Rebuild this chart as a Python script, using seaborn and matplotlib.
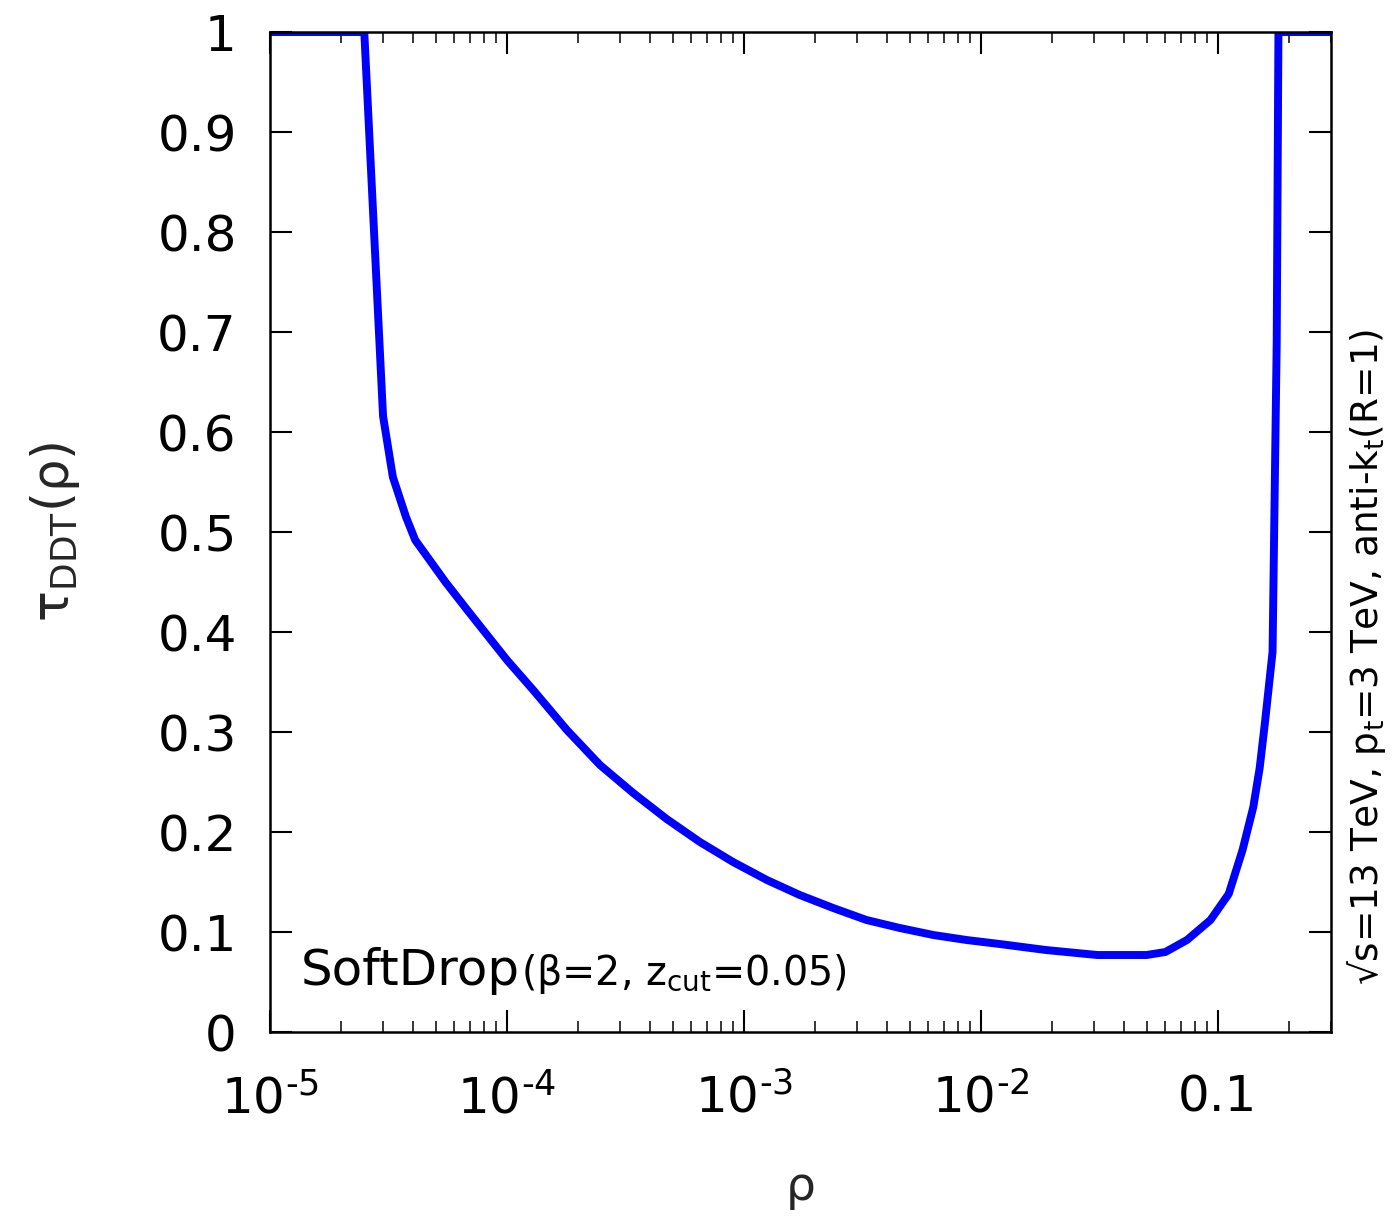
import matplotlib
matplotlib.use("Agg")
import matplotlib.pyplot as plt
import seaborn as sns
import numpy as np
import pandas as pd
from matplotlib.offsetbox import TextArea, HPacker, AnchoredOffsetbox
from matplotlib.ticker import LogLocator, NullFormatter, FixedLocator, NullLocator

# ---- data ----
rho = [1e-5, 2.5e-5, 3.0e-5, 3.3e-5, 3.75e-5, 4.1e-5, 5.5e-5, 6.8e-5, 1.0e-4,
       1.29e-4, 1.79e-4, 2.47e-4, 3.41e-4, 4.72e-4, 6.52e-4, 9.0e-4, 1.25e-3,
       1.72e-3, 2.38e-3, 3.29e-3, 4.55e-3, 6.3e-3, 8.7e-3, 1.2e-2, 1.88e-2,
       3.1e-2, 5e-2, 6e-2, 7.4e-2, 9.3e-2, 0.111, 0.127, 0.141, 0.15, 0.158,
       0.17, 0.177, 0.18, 0.3]
tau = [1.0, 1.0, 0.616, 0.555, 0.515, 0.492, 0.450, 0.422, 0.372,
       0.342, 0.302, 0.267, 0.239, 0.213, 0.190, 0.170, 0.152,
       0.137, 0.124, 0.112, 0.104, 0.097, 0.092, 0.088, 0.082,
       0.077, 0.077, 0.080, 0.092, 0.112, 0.138, 0.182, 0.225, 0.264, 0.310,
       0.380, 0.690, 1.0, 1.0]

x_ticks = [1e-5, 1e-4, 1e-3, 1e-2, 0.1]
x_tick_labels = ["10$^{\u20105}$", "10$^{\u20104}$", "10$^{\u20103}$", "10$^{\u20102}$", "0.1"]
y_ticks = [0, 0.1, 0.2, 0.3, 0.4, 0.5, 0.6, 0.7, 0.8, 0.9, 1.0]
y_tick_labels = ["0", "0.1", "0.2", "0.3", "0.4", "0.5", "0.6", "0.7", "0.8", "0.9", "1"]

df = pd.DataFrame({"rho": rho, "tau": tau})

sns.set_style("ticks")
plt.rcParams["font.family"] = ["DejaVu Sans"]
plt.rcParams["mathtext.fontset"] = "dejavusans"
plt.rcParams["mathtext.default"] = "regular"

fig = plt.figure(figsize=(13.93, 12.17), dpi=100)
ax = fig.add_axes([0.1938, 0.152, 0.9555 - 0.1938, 0.9737 - 0.152])

sns.lineplot(data=df, x="rho", y="tau", ax=ax, color="#0000ff", linewidth=5.7,
             estimator=None, sort=False, solid_joinstyle="round")

ax.set_xscale("log")
ax.set_xlim(1e-5, 0.3)
ax.set_ylim(0, 1)

ax.xaxis.set_major_locator(FixedLocator(x_ticks))
ax.set_xticklabels(x_tick_labels)
ax.xaxis.set_minor_locator(LogLocator(base=10, subs=np.arange(2, 10)))
ax.xaxis.set_minor_formatter(NullFormatter())
ax.set_yticks(y_ticks)
ax.set_yticklabels(y_tick_labels)
ax.yaxis.set_minor_locator(NullLocator())

for sp in ax.spines.values():
    sp.set_visible(True)
    sp.set_linewidth(1.8)
    sp.set_color("black")

ax.tick_params(axis="both", which="major", direction="in", length=16, width=1.5,
               top=True, right=True, labelsize=36, colors="black")
ax.tick_params(axis="x", which="minor", direction="in", length=8, width=1.3,
               top=True, bottom=True)
ax.tick_params(axis="y", which="major", pad=24)
ax.tick_params(axis="x", which="major", pad=30)

ax.set_xlabel("ρ", fontsize=34, labelpad=30)
ax.set_ylabel(r"τ$_{\mathregular{DDT}}$(ρ)", fontsize=37, labelpad=54)

# SoftDrop annotation with mixed sizes, baseline aligned
t1 = TextArea("SoftDrop", textprops=dict(fontsize=36, color="black"))
t2 = TextArea(r"(β=2, z$_{\mathregular{cut}}$=0.05)", textprops=dict(fontsize=28.5, color="black"))
pack = HPacker(children=[t1, t2], align="baseline", pad=0, sep=1)
anch = AnchoredOffsetbox(loc="lower left", child=pack, frameon=False,
                         bbox_to_anchor=(0.029, 0.036), bbox_transform=ax.transAxes,
                         borderpad=0, pad=0)
ax.add_artist(anch)

# right-side rotated text
fig.text(0.981, 0.46, r"√s=13 TeV, p$_{\mathregular{t}}$=3 TeV, anti-k$_{\mathregular{t}}$(R=1)",
         rotation=90, fontsize=27, ha="center", va="center", color="black")

fig.savefig("out.png", dpi=100, facecolor="white")
